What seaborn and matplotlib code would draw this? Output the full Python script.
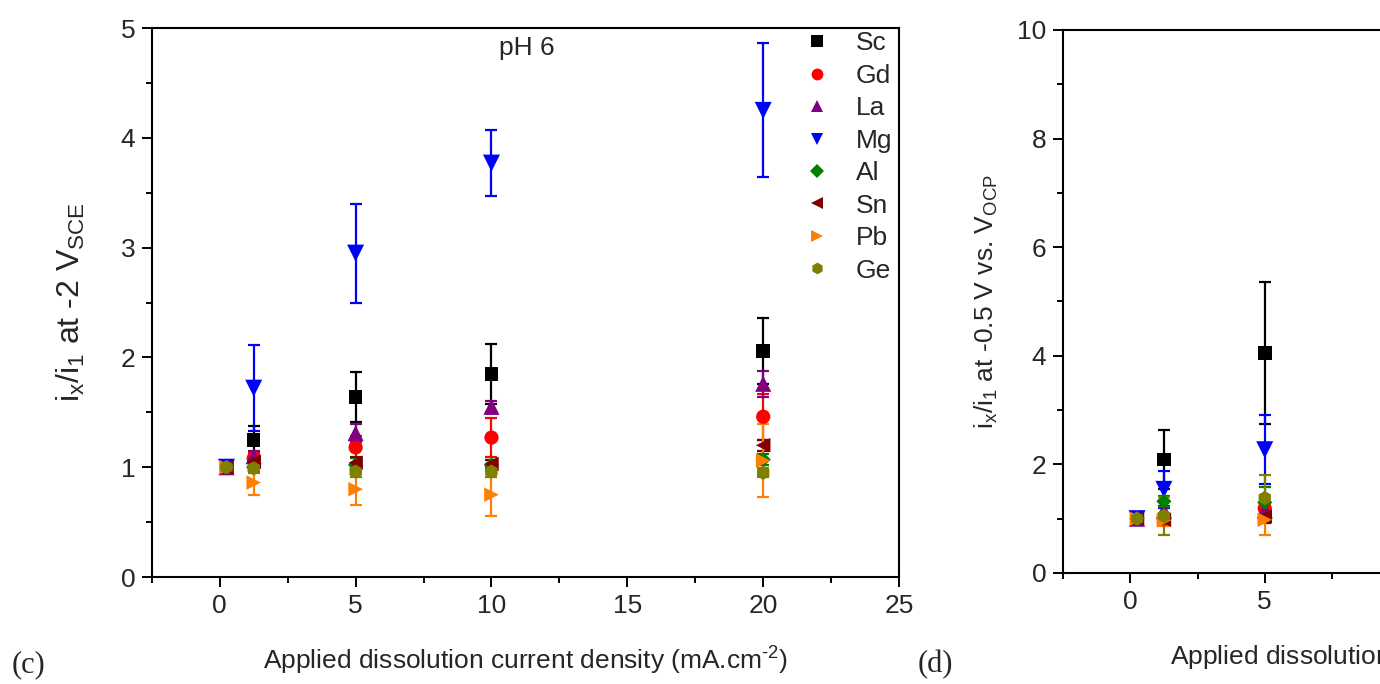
import numpy as np
import pandas as pd
import matplotlib
matplotlib.use("Agg")
import matplotlib.pyplot as plt
from matplotlib.lines import Line2D
from matplotlib.ticker import MultipleLocator
import seaborn as sns

sns.set_theme(style="white")
plt.rcParams['font.family'] = ['Liberation Sans', 'DejaVu Sans']
plt.rcParams['mathtext.fontset'] = 'custom'
plt.rcParams['mathtext.rm'] = 'Liberation Sans'

metals = ["Sc", "Gd", "La", "Mg", "Al", "Sn", "Pb", "Ge"]
colors = {"Sc": "#000000", "Gd": "#ff0000", "La": "#800080", "Mg": "#0000ff",
          "Al": "#008000", "Sn": "#800000", "Pb": "#ff8000", "Ge": "#808000"}
markers = {"Sc": "s", "Gd": "o", "La": "^", "Mg": "v",
           "Al": "D", "Sn": "<", "Pb": ">", "Ge": "h"}
sizes = {"Sc": 95, "Gd": 105, "La": 135, "Mg": 150, "Al": 60, "Sn": 110, "Pb": 110, "Ge": 105}

# Panel (c): pH 6, at -2 V_SCE
x_c = [0.25, 1.25, 5, 10, 20]
c_vals = {
    "Sc": [1, 1.25, 1.64, 1.85, 2.06],
    "Gd": [1, 1.08, 1.18, 1.27, 1.46],
    "La": [1, 1.10, 1.31, 1.55, 1.76],
    "Mg": [1, 1.72, 2.95, 3.77, 4.25],
    "Al": [1, 1.00, 1.02, 1.02, 1.07],
    "Sn": [1, 1.05, 1.04, 1.03, 1.20],
    "Pb": [1, 0.86, 0.80, 0.75, 1.06],
    "Ge": [1, 0.99, 0.96, 0.96, 0.95],
}
c_errs = {
    "Sc": [0, 0.13, 0.23, 0.27, 0.30],
    "Gd": [0, 0.05, 0.10, 0.18, 0.21],
    "La": [0, 0.05, 0.08, 0.05, 0.12],
    "Mg": [0, 0.39, 0.45, 0.30, 0.61],
    "Al": [0, 0.04, 0.06, 0.05, 0.05],
    "Sn": [0, 0.05, 0.05, 0.04, 0.05],
    "Pb": [0, 0.11, 0.14, 0.19, 0.33],
    "Ge": [0, 0.04, 0.05, 0.05, 0.04],
}

# Panel (d): at -0.5 V vs. V_OCP (visible part)
x_d = [0.25, 1.25, 5]
d_vals = {
    "Sc": [1, 2.09, 4.05],
    "Gd": [1, 1.00, 1.19],
    "La": [1, 1.15, 1.15],
    "Mg": [1, 1.54, 2.27],
    "Al": [1, 1.32, 1.30],
    "Sn": [1, 0.98, 1.04],
    "Pb": [1, 0.97, 0.98],
    "Ge": [1, 1.05, 1.38],
}
d_errs = {
    "Sc": [0, 0.54, 1.30],
    "Gd": [0, 0.08, 0.10],
    "La": [0, 0.08, 0.10],
    "Mg": [0, 0.34, 0.64],
    "Al": [0, 0.10, 0.28],
    "Sn": [0, 0.10, 0.12],
    "Pb": [0, 0.10, 0.28],
    "Ge": [0, 0.35, 0.43],
}

xlabel = "Applied dissolution current density (mA.cm$^{\\mathregular{\u2010 2}}$)"
ylabel_c = "i$_\\mathregular{x}$/i$_\\mathregular{1}$ at -2 V$_\\mathregular{SCE}$"
ylabel_d = "i$_\\mathregular{x}$/i$_\\mathregular{1}$ at -0.5 V vs. V$_\\mathregular{OCP}$"


def to_df(xs, vals, errs):
    rows = []
    for m in metals:
        for xi, v, e in zip(xs, vals[m], errs[m]):
            rows.append({"x": xi, "y": v, "err": e, "metal": m})
    return pd.DataFrame(rows)


def draw(ax, df):
    for m in metals:
        sub = df[df.metal == m]
        sub = sub[sub.err > 0]
        ax.errorbar(sub.x, sub.y, yerr=sub.err, fmt="none", ecolor=colors[m],
                    elinewidth=1.6, capsize=4.5, capthick=1.6, zorder=2)
    sns.scatterplot(data=df, x="x", y="y", hue="metal", style="metal", size="metal",
                    palette=colors, markers=markers, sizes=sizes, hue_order=metals,
                    style_order=metals, size_order=metals,
                    edgecolor="none", linewidth=0, legend=False, ax=ax, zorder=3)


def style_axes(ax, ylim, ymaj, ymin):
    ax.set_xlim(-2.5, 25)
    ax.set_ylim(*ylim)
    ax.xaxis.set_major_locator(MultipleLocator(5))
    ax.xaxis.set_minor_locator(MultipleLocator(2.5))
    ax.yaxis.set_major_locator(MultipleLocator(ymaj))
    ax.yaxis.set_minor_locator(MultipleLocator(ymin))
    for s in ax.spines.values():
        s.set_color("black")
        s.set_linewidth(1.5)
    ax.tick_params(which="major", direction="out", length=7, width=1.4, color="black",
                   bottom=True, left=True, top=False, right=False, labelsize=19, pad=5)
    ax.tick_params(which="minor", direction="out", length=4, width=1.4, color="black",
                   bottom=True, left=True, top=False, right=False)


fig = plt.figure(figsize=(13.8, 6.84), dpi=100)
ax1 = fig.add_axes([0.110, 0.1564, 0.5415, 0.8026])
ax2 = fig.add_axes([0.7703, 0.1623, 0.536, 0.7939])

df_c = to_df(x_c, c_vals, c_errs)
df_d = to_df(x_d, d_vals, d_errs)
draw(ax1, df_c)
draw(ax2, df_d)

style_axes(ax1, (0, 5), 1, 0.5)
style_axes(ax2, (0, 10), 2, 1)

ax1.set_xlabel(xlabel, fontsize=19, labelpad=18)
ax1.set_ylabel(ylabel_c, fontsize=23, labelpad=24)
ax2.set_xlabel(xlabel, fontsize=19, labelpad=18)
ax2.set_ylabel(ylabel_d, fontsize=19, labelpad=12)

ax1.text(11.3, 4.82, "pH 6", fontsize=19, ha="center", va="center")

handles = [Line2D([], [], linestyle="none", marker=markers[m], color=colors[m],
                  markersize=8.5 if m != "Al" else 7, markeredgewidth=0) for m in metals]
ax1.legend(handles, metals, loc="upper right", bbox_to_anchor=(1.005, 1.013),
           frameon=False, fontsize=19, handlelength=2.0, handletextpad=0.45,
           labelspacing=0.32, borderaxespad=0.0)

fig.text(12 / 1380, 1 - 665 / 684, "(c)", fontsize=22, fontfamily="Liberation Serif",
         ha="left", va="center")
fig.text(918 / 1380, 1 - 665 / 684, "(d)", fontsize=22, fontfamily="Liberation Serif",
         ha="left", va="center")

fig.savefig("out.png", dpi=100)
